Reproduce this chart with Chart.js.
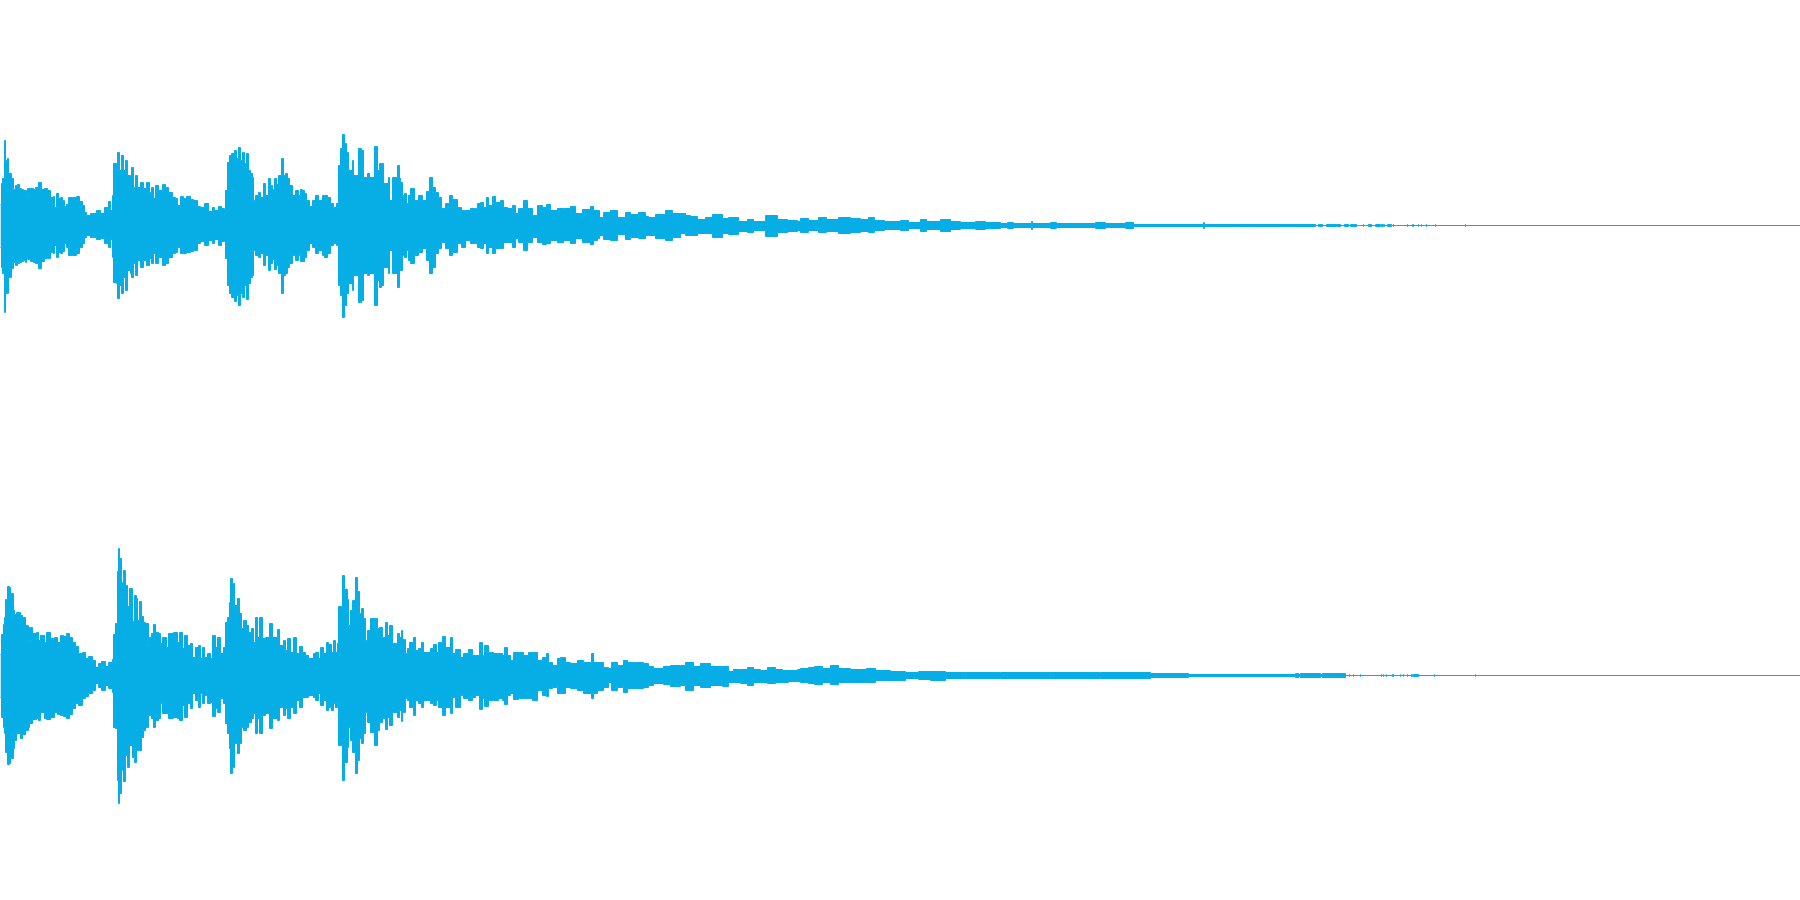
<!DOCTYPE html>
<html>
<head>
<meta charset="utf-8">
<title>Waveform</title>
<script src="https://cdn.jsdelivr.net/npm/chart.js@4"></script>
<style>
  html, body { margin: 0; padding: 0; background: #fff; overflow: hidden; }
  canvas { display: block; }
</style>
</head>
<body>
<canvas id="channelTop" width="1800" height="450"></canvas>
<canvas id="channelBottom" width="1800" height="450"></canvas>
<script>
// Envelope of each channel. Level scale: full scale = 225.
// A repeated time is a one-sample tick in the tail.
const topTime = [
  0,1,2,4,5,7,8,11,13,15,
  17,19,21,23,25,26,27,30,33,35,
  38,41,44,47,50,53,54,56,58,60,
  62,64,66,68,72,76,79,82,84,86,
  90,94,96,100,104,108,110,112,113,116,
  117,119,121,123,125,127,130,131,133,135,
  137,140,143,146,149,151,153,155,158,162,
  165,168,172,175,177,180,183,186,190,193,
  197,200,204,208,212,214,218,221,224,225,
  227,229,231,234,236,238,240,242,244,246,
  248,250,252,253,255,258,260,263,265,268,
  270,272,274,276,278,281,283,285,287,289,
  292,295,298,300,302,304,306,309,312,315,
  318,322,324,327,330,333,336,338,340,342,
  344,346,348,352,353,358,361,363,367,369,
  374,377,379,381,383,388,389,392,397,399,
  400,402,404,406,408,410,414,418,422,426,
  429,432,435,438,441,445,449,452,457,461,
  465,470,475,477,480,483,486,488,492,495,
  500,503,507,512,515,518,523,527,532,537,
  542,546,550,557,563,570,575,582,590,593,
  597,599,603,610,617,625,630,638,645,648,
  655,665,672,680,685,690,697,705,712,722,
  728,738,747,753,765,777,787,797,
  800,808,818,826,838,850,860,868,874,884,
  900,908,920,926,940,950,960,975,985,
  1000,1007,1013,1031,1032,1050,1056,1095,1105,1125,
  1133,1203,1204,1235,1235,1252,1252,1285,1285,1289,
  1289,1315,1318,1322,1326,1336,1340,1344,1348,1350,
  1356,1363,1363,1368,1371,1375,1380,1381,1383,1384,
  1384,1387,1391,1393,1393,1407,1407,1412,1413,1418,
  1418,1421,1421,1426,1426,1435,1435,1465,1465,1800
];
const topUpper = [
  21,42,47,85,65,67,52,47,36,40,
  41,37,36,35,35,30,37,37,36,38,
  43,36,37,35,28,29,18,32,27,28,
  25,19,21,28,28,29,24,20,13,10,
  12,12,15,12,18,24,15,30,62,55,
  73,55,70,55,65,50,50,58,38,50,
  38,43,37,43,33,38,27,40,35,41,
  38,33,28,27,20,29,27,29,26,25,
  19,18,22,14,18,15,19,17,16,35,
  63,70,72,75,67,78,65,73,62,72,
  55,52,48,25,30,33,28,42,30,47,
  40,36,47,41,50,67,50,52,47,40,
  30,35,30,36,35,32,25,19,25,30,
  25,30,30,28,22,18,22,60,77,91,
  82,73,55,65,50,77,75,48,52,48,
  79,55,62,62,42,48,25,48,60,47,
  43,30,32,22,30,37,25,30,25,34,
  48,38,33,28,17,22,30,26,18,15,
  15,17,17,22,23,18,28,20,29,23,
  25,18,17,20,12,17,25,17,10,20,
  18,21,15,17,17,19,12,16,19,15,
  15,8,13,15,8,13,11,13,9,8,
  11,15,12,12,10,9,6,8,11,7,
  8,4,6,4,10,6,5,4,
  7,5,8,6,8,7,6,8,5,4,
  5,3,6,4,6,4,3,4,3,
  2,3,2,4,2,3,2,3,2,3,
  1,3,1,0,1,0,1,0,1,0,
  1,0,1,0,1,1,0,1,0,1,
  0,1,0,1,0,1,0,1,0,1,
  0,1,0,1,0,1,0,1,0,1,
  0,1,0,1,0,1,0,1,0,0
];
const topLower = [
  22,42,48,87,68,68,52,43,37,40,
  38,37,36,35,37,32,34,36,37,38,
  43,36,33,33,27,28,20,32,27,28,
  26,18,22,30,30,28,22,18,12,10,
  12,12,14,13,18,22,14,32,57,58,
  73,60,68,52,65,45,48,52,38,50,
  35,42,35,40,33,38,28,38,32,40,
  38,32,28,27,22,28,28,27,26,25,
  18,16,20,15,18,14,20,16,16,33,
  60,68,72,76,70,80,68,72,60,74,
  58,52,50,25,30,32,28,40,30,45,
  38,34,44,40,48,68,50,48,42,38,
  30,35,30,36,36,32,25,18,22,28,
  25,30,32,28,20,18,20,60,70,92,
  80,68,58,65,50,77,75,48,50,48,
  80,55,62,60,42,48,25,48,62,45,
  45,30,32,25,35,38,30,27,23,35,
  48,42,28,23,17,23,30,27,18,22,
  15,18,18,22,23,18,28,22,28,23,
  23,17,17,22,13,17,25,17,12,17,
  19,18,15,17,15,18,13,17,19,15,
  13,10,14,15,9,14,12,13,10,10,
  13,15,12,8,10,10,8,8,12,8,
  9,6,7,5,11,7,6,5,
  7,5,7,6,8,7,6,7,5,4,
  5,3,6,4,6,4,3,4,3,
  2,3,2,4,2,3,2,3,2,3,
  1,3,1,0,1,0,1,0,1,0,
  1,0,1,0,1,1,0,1,0,1,
  0,1,0,1,0,1,0,1,0,1,
  0,1,0,1,0,1,0,1,0,1,
  0,1,0,1,0,1,0,1,0,0
];

const bottomTime = [
  0,1,3,4,5,7,9,10,11,13,
  14,16,20,22,25,28,29,30,32,36,
  38,40,44,46,50,54,57,60,63,66,
  69,72,75,78,82,85,88,92,95,98,
  101,105,108,112,113,115,117,118,119,121,
  122,123,125,127,129,132,134,136,137,139,
  141,143,145,148,149,151,153,155,158,160,
  162,166,168,173,177,179,182,184,187,190,
  192,195,198,200,202,204,207,210,212,215,
  217,220,223,225,227,229,230,232,234,237,
  239,241,243,246,248,251,253,255,257,259,
  262,265,269,272,277,279,283,285,287,290,
  293,296,299,302,305,308,313,315,318,320,
  323,326,328,331,333,335,337,338,341,342,
  344,347,348,350,352,355,357,359,361,363,
  365,367,370,374,377,379,382,385,387,389,
  392,393,397,399,
  401,402,404,405,407,409,413,415,418,421,
  423,427,430,433,436,438,442,445,450,452,
  455,460,463,468,472,475,479,482,484,488,
  493,498,502,504,507,510,513,518,523,528,
  532,537,542,546,548,552,557,560,565,570,
  577,583,591,593,597,603,608,611,617,623,
  627,635,643,648,653,663,670,680,685,693,
  700,710,722,728,733,740,747,753,760,767,
  775,782,788,797,
  800,808,814,822,830,838,850,866,875,890,
  905,918,930,945,965,1000,1050,1100,1150,1188,
  1295,1298,1300,1320,1322,1345,
  1349,1349,1353,1353,1360,1360,
  1381,1381,1383,1383,1386,1386,
  1392,1393,1400,1400,1403,1403,
  1407,1407,1411,1412,1413,1418,
  1434,1434,1475,1475,1800
];
const bottomUpper = [
  21,41,51,58,76,89,88,73,82,65,
  61,63,60,58,50,48,35,48,42,43,
  35,40,33,43,37,38,33,40,39,42,
  38,33,29,22,23,17,19,15,8,12,
  14,9,13,16,41,52,104,127,117,78,
  93,105,90,69,87,54,80,77,55,74,
  59,53,52,30,38,42,51,43,42,32,
  38,28,42,43,33,43,27,40,30,32,
  18,28,30,17,28,18,22,17,40,28,
  38,22,28,53,58,73,97,92,70,77,
  62,47,55,50,43,47,33,58,38,58,
  37,38,52,38,46,30,35,25,37,23,
  38,22,29,23,20,17,22,23,17,28,
  22,33,31,23,35,23,32,69,65,100,
  86,76,50,65,75,98,84,62,67,57,
  35,45,57,57,47,48,38,53,40,50,
  28,32,42,38,
  45,36,36,22,27,33,38,25,27,33,
  23,23,27,31,23,33,39,28,38,22,
  26,18,22,26,20,20,33,20,30,23,
  22,22,20,28,20,15,23,23,20,23,
  23,15,18,22,13,10,17,18,13,12,
  15,13,22,13,13,8,7,13,10,15,
  13,13,12,9,7,9,10,10,13,9,
  12,9,9,4,6,6,8,6,5,8,
  6,5,5,6,
  7,8,9,7,10,7,6,7,5,4,
  3,4,4,3,3,3,3,3,2,1,
  2,1,2,1,2,0,
  1,0,1,0,1,0,
  1,0,1,0,1,0,
  1,0,1,0,1,0,
  1,0,1,0,1,0,
  1,0,1,0,0
];
const bottomLower = [
  22,42,52,58,77,89,88,63,83,73,
  65,58,63,59,55,52,48,48,44,43,
  45,37,43,44,42,37,39,40,41,43,
  39,33,28,30,23,21,18,15,8,12,
  15,10,13,17,52,53,105,128,118,95,
  90,106,80,92,70,82,87,55,75,75,
  62,55,52,40,40,43,52,45,43,28,
  38,38,43,42,43,45,30,42,28,33,
  18,25,32,18,28,20,28,27,41,33,
  37,23,28,48,58,73,98,92,68,78,
  68,52,55,52,47,43,38,58,43,58,
  40,38,53,43,45,32,40,33,43,32,
  38,25,32,22,22,20,22,25,18,30,
  25,35,32,35,28,32,28,70,65,105,
  87,72,52,65,77,98,85,63,68,58,
  37,47,57,70,55,47,43,54,42,50,
  32,37,42,35,
  46,37,37,23,25,32,40,25,28,32,
  25,25,28,30,25,32,40,32,38,22,
  32,20,23,25,22,20,34,23,31,25,
  25,23,25,29,20,18,24,23,23,23,
  25,15,20,21,13,12,18,18,12,13,
  15,18,23,18,15,12,7,15,12,17,
  13,13,12,10,8,9,11,10,15,10,
  12,10,11,7,7,8,10,7,7,8,
  7,7,6,6,
  7,8,9,7,9,7,7,7,5,5,
  3,4,5,3,3,3,3,3,2,1,
  2,1,2,1,2,0,
  1,0,1,0,1,0,
  1,0,1,0,1,0,
  1,0,1,0,1,0,
  1,0,1,0,1,0,
  1,0,1,0,0
];

const waveColor = '#07aee6';

function envelope(time, values, sign) {
  return time.map((t, i) => ({ x: t, y: sign * values[i] }));
}

function drawChannel(id, time, upper, lower) {
  new Chart(document.getElementById(id), {
    type: 'line',
    data: {
      datasets: [
        {
          data: envelope(time, upper, 1),
          borderColor: waveColor,
          backgroundColor: waveColor,
          borderWidth: 1,
          pointRadius: 0,
          stepped: true,
          fill: '+1',
        },
        {
          data: envelope(time, lower, -1),
          borderColor: waveColor,
          backgroundColor: waveColor,
          borderWidth: 1,
          pointRadius: 0,
          stepped: true,
          fill: false,
        },
      ],
    },
    options: {
      responsive: false,
      animation: false,
      layout: { padding: 0 },
      plugins: { legend: { display: false }, tooltip: { enabled: false } },
      scales: {
        // half-unit offsets keep the 1px strokes on whole pixel rows/columns
        x: { type: 'linear', min: -0.5, max: 1799.5, display: false },
        y: { min: -224.5, max: 225.5, display: false },
      },
    },
  });
}

drawChannel('channelTop', topTime, topUpper, topLower);
drawChannel('channelBottom', bottomTime, bottomUpper, bottomLower);
</script>
</body>
</html>
